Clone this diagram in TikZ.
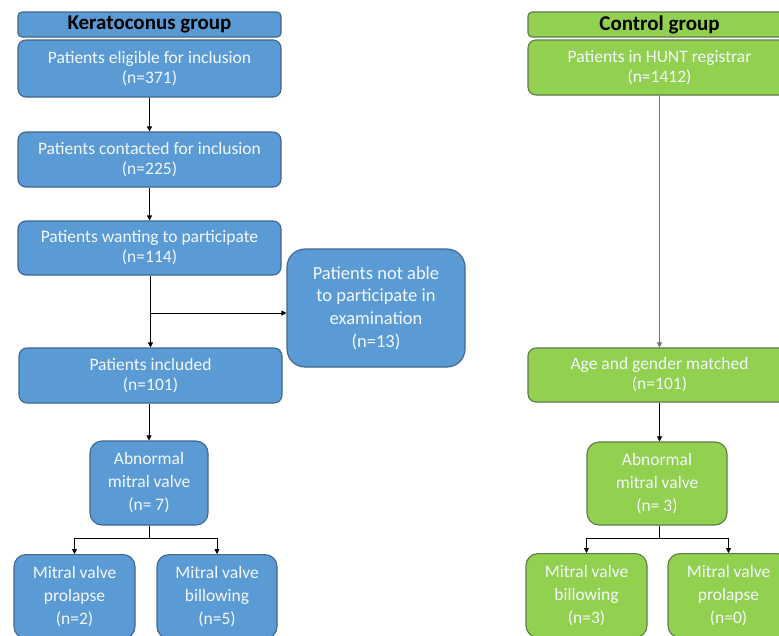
\documentclass[tikz,border=0pt]{standalone}
\usepackage{fontspec}
\setmainfont{Carlito}
\usetikzlibrary{arrows.meta}
\definecolor{kblue}{HTML}{5B9BD5}
\definecolor{kbord}{HTML}{41668C}
\definecolor{cgreen}{HTML}{92D050}
\definecolor{cbord}{HTML}{5E7A48}
\definecolor{txtw}{HTML}{F4F8FC}
\tikzset{
  x=1pt,y=-1pt,
  box/.style={draw=kbord,fill=kblue,line width=1.1pt,rounded corners=8pt,align=center,text=txtw,
    font=\fontsize{17.5}{20}\selectfont,inner sep=0pt},
  three/.style={font=\fontsize{17.5}{23}\selectfont,rounded corners=12pt},
  gbox/.style={box,draw=cbord,fill=cgreen},
  hdr/.style={box,rounded corners=4pt,text=black,font=\fontsize{21}{20}\selectfont\bfseries},
  ghdr/.style={hdr,draw=cbord,fill=cgreen},
  conn/.style={line width=0.8pt,-{Triangle[length=5pt,width=5pt]}},
  plain/.style={line width=0.8pt}
}
\begin{document}
\begin{tikzpicture}
\useasboundingbox (0,0) rectangle (779,635);
\clip (0,0) rectangle (779,635);
\fill[white] (0,0) rectangle (779,635);
% Keratoconus group
\node[hdr,minimum width=263pt,minimum height=25pt] (kh) at (149.5,24.5) {Keratoconus group};
\node[box,minimum width=263pt,minimum height=57pt] (k1) at (149.5,68.5) {Patients eligible for inclusion\\(n=371)};
\node[box,minimum width=263pt,minimum height=55pt] (k2) at (149.5,159.5) {Patients contacted for inclusion\\(n=225)};
\node[box,minimum width=263pt,minimum height=54pt] (k3) at (149.5,248) {Patients wanting to participate\\(n=114)};
\node[box,minimum width=263pt,minimum height=55pt] (k4) at (150.5,375.5) {Patients included\\(n=101)};
\node[box,minimum width=178pt,minimum height=118pt,rounded corners=18pt,font=\fontsize{18.5}{22.7}\selectfont] (kx) at (376,308) {Patients not able\\to participate in\\examination\\(n=13)};
\node[box,three,minimum width=118pt,minimum height=84pt] (k5) at (149,483) {Abnormal\\mitral valve\\(n= 7)};
\node[box,three,minimum width=121pt,minimum height=84pt,anchor=north] (k6) at (74.5,554) {Mitral valve\\prolapse\\(n=2)};
\node[box,three,minimum width=120pt,minimum height=84pt,anchor=north] (k7) at (217,554) {Mitral valve\\billowing\\(n=5)};
\coordinate (kb) at (150,313);
\coordinate (kj) at (149,538);
\draw[conn] (k1.south) -- (k2.north);
\draw[conn] (k2.south) -- (k3.north);
\draw[conn] (k3.south -| k4.north) -- (k4.north);
\draw[conn] (kb) -- (kb -| kx.west);
\draw[conn] (k4.south -| k5.north) -- (k5.north);
\draw[plain] (k5.south) -- (kj);
\draw[conn] (kj) -| (k6.north);
\draw[conn] (kj) -| (k7.north);
% Control group
\node[ghdr,minimum width=263pt,minimum height=25pt] (ch) at (659.5,24.5) {Control group};
\node[gbox,minimum width=263pt,minimum height=55pt] (c1) at (659.5,67.5) {Patients in HUNT registrar\\(n=1412)};
\node[gbox,minimum width=263pt,minimum height=54pt] (c2) at (659.5,375) {Age and gender matched\\(n=101)};
\node[gbox,three,minimum width=140pt,minimum height=83pt] (c3) at (657,483.5) {Abnormal\\mitral valve\\(n= 3)};
\node[gbox,three,minimum width=121pt,minimum height=84pt,anchor=north] (c4) at (586.5,553) {Mitral valve\\billowing\\(n=3)};
\node[gbox,three,minimum width=121pt,minimum height=84pt,anchor=north] (c5) at (728.5,553) {Mitral valve\\prolapse\\(n=0)};
\coordinate (cj) at (659,538);
\draw[conn,draw=black!55] (c1.south) -- (c2.north);
\draw[conn] (c2.south) -- (c2.south |- c3.north);
\draw[plain] (c3.south -| cj) -- (cj);
\draw[conn] (cj) -| (c4.north);
\draw[conn] (cj) -| (c5.north);
\end{tikzpicture}
\end{document}
